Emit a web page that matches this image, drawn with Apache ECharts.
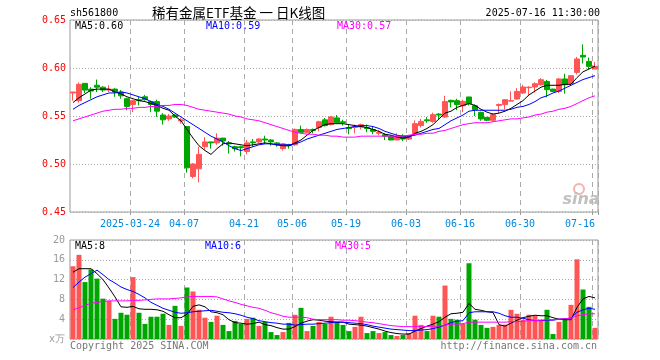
<!DOCTYPE html>
<html><head><meta charset="utf-8">
<script src="https://cdn.jsdelivr.net/npm/echarts@6/dist/echarts.min.js"></script>
<style>html,body{margin:0;padding:0;background:#fff}#c{width:660px;height:360px}</style>
</head><body><div id="c"></div>
<script>
const dates = [
'2025-03-10','2025-03-11','2025-03-12','2025-03-13','2025-03-14','2025-03-17','2025-03-18','2025-03-19','2025-03-20','2025-03-21',
'2025-03-24','2025-03-25','2025-03-26','2025-03-27','2025-03-28','2025-03-31','2025-04-01','2025-04-02','2025-04-03','2025-04-07',
'2025-04-08','2025-04-09','2025-04-10','2025-04-11','2025-04-14','2025-04-15','2025-04-16','2025-04-17','2025-04-18','2025-04-21',
'2025-04-22','2025-04-23','2025-04-24','2025-04-25','2025-04-28','2025-04-29','2025-04-30','2025-05-06','2025-05-07','2025-05-08',
'2025-05-09','2025-05-12','2025-05-13','2025-05-14','2025-05-15','2025-05-16','2025-05-19','2025-05-20','2025-05-21','2025-05-22',
'2025-05-23','2025-05-26','2025-05-27','2025-05-28','2025-05-29','2025-05-30','2025-06-03','2025-06-04','2025-06-05','2025-06-06',
'2025-06-09','2025-06-10','2025-06-11','2025-06-12','2025-06-13','2025-06-16','2025-06-17','2025-06-18','2025-06-19','2025-06-20',
'2025-06-23','2025-06-24','2025-06-25','2025-06-26','2025-06-27','2025-06-30','2025-07-01','2025-07-02','2025-07-03','2025-07-04',
'2025-07-07','2025-07-08','2025-07-09','2025-07-10','2025-07-11','2025-07-14','2025-07-15','2025-07-16'];
const tickDates = ['2025-03-24','2025-04-07','2025-04-21','2025-05-06','2025-05-19','2025-06-03','2025-06-16','2025-06-30','2025-07-16'];
const tickLabels = ['2025-03-24','04-07','04-21','05-06','05-19','06-03','06-16','06-30','07-16'];

const open = [0.574,0.566,0.584,0.578,0.582,0.580,0.577,0.578,0.575,0.568,
0.562,0.567,0.570,0.565,0.565,0.551,0.547,0.551,0.545,0.539,
0.487,0.495,0.518,0.523,0.522,0.527,0.522,0.518,0.518,0.513,
0.523,0.523,0.526,0.525,0.522,0.516,0.520,0.520,0.536,0.533,
0.536,0.538,0.546,0.541,0.548,0.544,0.538,0.538,0.5385,0.538,
0.536,0.532,0.5305,0.529,0.525,0.529,0.526,0.5316,0.540,0.546,
0.5444,0.552,0.549,0.5663,0.566,0.5607,0.5698,0.5607,0.5538,0.5486,
0.5455,0.561,0.5618,0.5655,0.5677,0.574,0.5795,0.5802,0.5826,0.586,
0.578,0.5756,0.5886,0.5836,0.5954,0.6132,0.6069,0.599];
const close = [0.575,0.583,0.577,0.576,0.580,0.577,0.578,0.575,0.571,0.560,
0.566,0.566,0.567,0.562,0.555,0.546,0.550,0.549,0.546,0.496,
0.500,0.510,0.523,0.522,0.527,0.524,0.521,0.516,0.517,0.522,
0.522,0.526,0.525,0.523,0.520,0.521,0.519,0.536,0.533,0.536,
0.535,0.544,0.540,0.549,0.543,0.543,0.537,0.539,0.541,0.537,
0.534,0.533,0.529,0.525,0.529,0.526,0.5295,0.542,0.5444,0.545,
0.5514,0.551,0.565,0.5646,0.5618,0.5652,0.5628,0.5566,0.5469,0.5455,
0.5514,0.562,0.567,0.566,0.5756,0.5802,0.580,0.5836,0.5878,0.5774,
0.5756,0.5886,0.5826,0.592,0.6094,0.6114,0.6017,0.6017];
const low = [0.566,0.564,0.574,0.568,0.575,0.575,0.575,0.570,0.568,0.556,
0.554,0.561,0.566,0.554,0.549,0.541,0.545,0.548,0.542,0.491,
0.485,0.481,0.515,0.516,0.520,0.519,0.511,0.513,0.508,0.510,
0.518,0.522,0.521,0.519,0.518,0.514,0.516,0.519,0.532,0.532,
0.532,0.534,0.539,0.540,0.542,0.540,0.531,0.532,0.536,0.533,
0.531,0.530,0.525,0.525,0.525,0.524,0.525,0.530,0.538,0.543,
0.543,0.546,0.548,0.559,0.556,0.554,0.561,0.550,0.545,0.5445,
0.5445,0.553,0.557,0.565,0.567,0.573,0.572,0.5745,0.5815,0.5695,
0.575,0.574,0.5733,0.5826,0.5933,0.6047,0.5985,0.599];
const high = [0.575,0.585,0.584,0.580,0.588,0.581,0.582,0.579,0.577,0.569,
0.567,0.570,0.572,0.566,0.567,0.553,0.552,0.552,0.548,0.539,
0.501,0.518,0.528,0.523,0.532,0.527,0.524,0.519,0.519,0.525,
0.526,0.527,0.5295,0.526,0.523,0.522,0.521,0.537,0.540,0.537,
0.537,0.545,0.548,0.550,0.551,0.546,0.541,0.541,0.542,0.541,
0.539,0.535,0.532,0.530,0.532,0.531,0.530,0.5455,0.547,0.549,
0.5535,0.553,0.571,0.567,0.568,0.567,0.570,0.562,0.5545,0.549,
0.553,0.563,0.567,0.5756,0.579,0.5825,0.581,0.585,0.5895,0.5875,
0.5785,0.5895,0.594,0.592,0.6116,0.6246,0.611,0.6063];

const volume = [14.7,17.0,11.5,14.05,12.2,8.15,7.7,4.07,5.3,4.9,
12.5,5.3,3.05,4.5,4.5,5.1,2.85,6.7,2.65,10.4,
9.6,5.9,4.3,3.45,4.7,2.85,1.6,3.65,3.05,4.07,
4.3,2.65,3.45,1.4,0.8,1.4,3.25,4.9,6.3,1.6,
2.65,3.45,3.05,4.5,3.45,2.85,1.6,2.45,4.5,1.2,
1.6,1.2,1.4,0.8,0.6,0.8,1.2,4.7,2.85,1.6,
4.7,4.5,10.8,4.07,3.9,3.05,15.3,3.9,2.85,2.25,
2.45,2.85,2.9,5.9,5.1,3.9,4.9,4.7,3.9,5.9,
1.0,3.45,3.9,6.9,16.1,10.0,6.5,2.25];

const ma5 = [0.564,0.569,0.573,0.577,0.578,0.578,0.578,0.575,0.573,0.570,
0.568,0.566,0.565,0.563,0.561,0.558,0.556,0.550,0.545,0.536,
0.527,0.519,0.514,0.510,0.516,0.521,0.522,0.521,0.520,0.519,
0.520,0.521,0.522,0.521,0.520,0.519,0.519,0.522,0.525,0.530,
0.535,0.538,0.541,0.542,0.542,0.542,0.541,0.540,0.539,0.538,
0.536,0.534,0.531,0.530,0.528,0.527,0.528,0.532,0.534,0.537,
0.541,0.547,0.553,0.555,0.559,0.561,0.563,0.561,0.557,0.554,
0.552,0.553,0.555,0.558,0.562,0.566,0.572,0.576,0.580,0.582,
0.582,0.582,0.583,0.583,0.590,0.596,0.599,0.602];
const ma10 = [0.557,0.561,0.564,0.567,0.570,0.572,0.574,0.574,0.575,0.574,
0.572,0.570,0.568,0.565,0.562,0.560,0.557,0.553,0.549,0.545,
0.541,0.537,0.533,0.529,0.526,0.523,0.519,0.516,0.514,0.516,
0.518,0.520,0.521,0.521,0.520,0.520,0.520,0.521,0.523,0.526,
0.528,0.530,0.532,0.534,0.536,0.537,0.538,0.539,0.540,0.540,
0.539,0.537,0.534,0.532,0.530,0.529,0.529,0.530,0.532,0.534,
0.536,0.537,0.541,0.545,0.548,0.551,0.555,0.556,0.556,0.556,
0.556,0.556,0.556,0.557,0.559,0.560,0.562,0.565,0.569,0.571,
0.574,0.576,0.579,0.582,0.585,0.588,0.590,0.592];
const ma30 = [0.545,0.547,0.549,0.551,0.553,0.555,0.556,0.557,0.557,0.558,
0.558,0.559,0.559,0.560,0.560,0.561,0.561,0.562,0.562,0.561,
0.559,0.557,0.556,0.555,0.554,0.553,0.552,0.550,0.549,0.547,
0.546,0.545,0.543,0.541,0.539,0.537,0.535,0.533,0.532,0.531,
0.531,0.530,0.530,0.529,0.529,0.528,0.528,0.528,0.529,0.529,
0.529,0.529,0.529,0.529,0.529,0.529,0.530,0.531,0.531,0.532,
0.532,0.534,0.535,0.537,0.539,0.541,0.542,0.543,0.543,0.543,
0.544,0.545,0.546,0.547,0.547,0.548,0.549,0.551,0.552,0.554,
0.555,0.557,0.558,0.560,0.563,0.566,0.569,0.571];

const volMa5 = [13.5,14.2,14.2,14.2,13.2,12.0,10.3,8.5,6.5,6.4,
6.6,6.1,6.0,6.0,5.9,5.6,4.9,4.3,4.3,5.0,
6.6,6.9,6.5,5.5,5.3,4.9,3.9,3.3,3.2,3.0,
3.1,3.4,2.9,2.7,2.3,2.0,2.0,2.5,3.2,3.6,
3.9,3.8,3.6,3.5,3.4,3.4,3.0,2.9,2.8,2.6,
2.3,2.0,1.6,1.3,1.1,1.0,1.0,1.6,2.1,2.6,
3.0,3.5,4.4,5.1,5.2,5.4,7.2,6.0,5.8,5.5,
5.35,2.9,2.6,3.2,3.8,4.3,4.6,4.8,4.7,4.7,
4.3,4.0,3.9,3.9,6.4,8.1,8.6,8.3];
const volMa10 = [10.4,11.5,12.5,13.2,13.9,13.0,12.0,11.3,10.5,10.0,
9.6,9.0,8.3,7.4,6.8,6.2,5.8,5.4,5.2,5.3,
5.5,5.6,5.7,5.8,5.6,5.4,5.3,5.1,4.8,4.4,
4.1,3.7,3.5,3.3,3.2,3.0,3.0,2.8,2.9,3.0,
3.0,3.1,3.2,3.3,3.4,3.4,3.3,3.2,3.1,2.9,
2.6,2.4,2.2,2.0,1.9,1.8,1.7,1.7,1.8,1.9,
2.1,2.4,2.8,3.3,3.6,3.7,5.3,5.5,5.5,5.5,
5.5,5.2,4.7,4.4,4.4,4.2,3.9,3.7,3.7,3.8,
3.8,4.0,4.1,4.2,5.4,5.9,6.2,6.0];
const volMa30 = [5.9,6.3,6.8,7.2,7.4,7.6,7.7,7.7,7.7,7.7,
7.8,7.8,7.9,8.0,8.1,8.1,8.1,8.2,8.3,8.5,
8.6,8.6,8.6,8.6,8.5,8.1,7.7,7.4,7.0,6.7,
6.4,6.2,5.8,5.3,5.0,4.6,4.4,4.4,4.4,4.3,
4.0,3.9,3.9,3.9,3.9,3.8,3.8,3.7,3.6,3.4,
3.3,3.1,2.9,2.7,2.6,2.5,2.5,2.5,2.5,2.5,
2.6,2.6,2.8,3.0,3.0,3.1,3.4,3.4,3.4,3.4,
3.4,3.4,3.4,3.5,3.5,3.6,3.7,3.7,3.8,3.9,
3.9,4.0,4.1,4.2,4.7,4.9,5.1,5.1];

const UP = '#ff5555', DOWN = '#00a600';
const MONO = '"DejaVu Sans Mono", monospace';
const last = dates.length - 1;
const isTick = (i, v) => tickDates.indexOf(v) >= 0;

const chart = echarts.init(document.getElementById('c'), null, {renderer: 'canvas'});
const gridLine = {show: true, interval: isTick, lineStyle: {color: '#aaa', type: [5, 4], width: 1}};
const hLine = {show: true, lineStyle: {color: '#aaa', type: [1, 2], width: 1}};

function txt(x, y, text, fill, align, font) {
  return {type: 'text', x: x, y: y, silent: true, z: 100,
    style: {text: text, fill: fill, align: align || 'left', verticalAlign: 'middle', font: font || ('10px ' + MONO)}};
}

chart.setOption({
  animation: false,
  backgroundColor: '#fff',
  grid: [
    {left: 70, top: 20, width: 528, height: 192, show: true, borderColor: '#999', borderWidth: 1},
    {left: 70, top: 240, width: 528, height: 99, show: true, borderColor: '#999', borderWidth: 1}
  ],
  xAxis: [
    {type: 'category', gridIndex: 0, data: dates, boundaryGap: true,
     axisLine: {show: false},
     axisTick: {show: true, interval: isTick, length: 3, lineStyle: {color: '#999'}},
     axisLabel: {show: true, interval: isTick, margin: 7, color: '#0088dd', fontFamily: MONO, fontSize: 10,
       formatter: function (v) {
         const k = tickDates.indexOf(v);
         const t = tickLabels[k];
         return v === dates[last] ? '{b|' + t + '}' : '{a|' + t + '}';
       },
       rich: {
         a: {color: '#0088dd', fontFamily: MONO, fontSize: 10, padding: [0, 6, 0, 0]},
         b: {color: '#0088dd', fontFamily: MONO, fontSize: 10, padding: [0, 30, 0, 0]}
       }},
     splitLine: gridLine},
    {type: 'category', gridIndex: 1, data: dates, boundaryGap: true,
     axisLine: {show: false}, axisTick: {show: false}, axisLabel: {show: false},
     splitLine: gridLine}
  ],
  yAxis: [
    {type: 'value', gridIndex: 0, min: 0.45, max: 0.65, interval: 0.05,
     axisLine: {show: false}, axisTick: {show: false},
     axisLabel: {color: '#f00', fontFamily: MONO, fontSize: 10, margin: 4,
       formatter: function (v) { return v.toFixed(2); }},
     splitLine: hLine},
    {type: 'value', gridIndex: 1, min: 0, max: 20, interval: 4,
     axisLine: {show: false}, axisTick: {show: false},
     axisLabel: {color: '#999', fontFamily: MONO, fontSize: 10, margin: 5,
       formatter: function (v) { return v === 0 ? 'x万' : String(v); }},
     splitLine: hLine}
  ],
  series: [
    {type: 'candlestick', xAxisIndex: 0, yAxisIndex: 0, barWidth: 5,
     data: dates.map((d, i) => [open[i], close[i], low[i], high[i]]),
     itemStyle: {color: UP, color0: DOWN, borderColor: UP, borderColor0: DOWN, borderWidth: 1}},
    {type: 'line', xAxisIndex: 0, yAxisIndex: 0, data: ma5, symbol: 'none', lineStyle: {color: '#000', width: 1}, z: 5},
    {type: 'line', xAxisIndex: 0, yAxisIndex: 0, data: ma10, symbol: 'none', lineStyle: {color: '#0000ff', width: 1}, z: 5},
    {type: 'line', xAxisIndex: 0, yAxisIndex: 0, data: ma30, symbol: 'none', lineStyle: {color: '#ff00ff', width: 1}, z: 5},
    {type: 'bar', xAxisIndex: 1, yAxisIndex: 1, barWidth: 5,
     data: volume.map((v, i) => ({value: v, itemStyle: {color: close[i] >= open[i] ? UP : DOWN}}))},
    {type: 'line', xAxisIndex: 1, yAxisIndex: 1, data: volMa5, symbol: 'none', lineStyle: {color: '#000', width: 1}, z: 5},
    {type: 'line', xAxisIndex: 1, yAxisIndex: 1, data: volMa10, symbol: 'none', lineStyle: {color: '#0000ff', width: 1}, z: 5},
    {type: 'line', xAxisIndex: 1, yAxisIndex: 1, data: volMa30, symbol: 'none', lineStyle: {color: '#ff00ff', width: 1}, z: 5}
  ],
  graphic: [
    txt(70, 13, 'sh561800', '#000'),
    txt(152, 13, '稀有金属ETF基金 一 日K线图', '#000', 'left', '13.5px "Noto Sans CJK SC"'),
    txt(600, 13, '2025-07-16 11:30:00', '#000', 'right'),
    txt(75, 26, 'MA5:' + ma5[last].toFixed(2), '#000'),
    txt(206, 26, 'MA10:' + ma10[last].toFixed(2), '#0000ff'),
    txt(337, 26, 'MA30:' + ma30[last].toFixed(2), '#ff00ff'),
    txt(75, 246, 'MA5:' + Math.round(volMa5[last]), '#000'),
    txt(205, 246, 'MA10:' + Math.round(volMa10[last]), '#0000ff'),
    txt(335, 246, 'MA30:' + Math.round(volMa30[last]), '#ff00ff'),
    txt(70, 346, 'Copyright 2025 SINA.COM', '#777'),
    txt(597, 346, 'http://finance.sina.com.cn', '#777', 'right'),
    {type: 'circle', silent: true, z: 1, shape: {cx: 579, cy: 189, r: 5},
     style: {fill: 'none', stroke: '#f5b0b0', lineWidth: 2}},
    txt(581, 200, 'sina', '#c0c0c0', 'center', 'italic bold 16px "DejaVu Sans"')
  ]
});
</script>
</body></html>
